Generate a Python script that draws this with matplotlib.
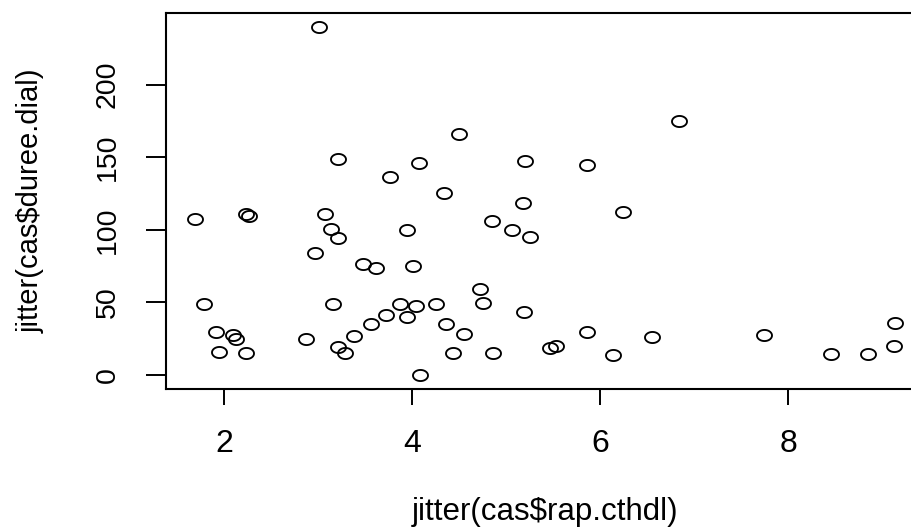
"""Scatter of jittered duree.dial against jittered rap.cthdl (R base plot look)."""

import matplotlib
matplotlib.use("Agg")
import matplotlib.pyplot as plt
import numpy as np
from matplotlib.path import Path

# values
rap_cthdl = [
    3.01, 4.50, 3.21, 4.07, 3.76, 4.34, 5.20, 5.18, 1.69, 2.23,
    2.26, 3.07, 3.13, 3.21, 3.94, 4.85, 5.06, 5.25, 2.96, 3.48,
    3.61, 4.01, 4.72, 4.75, 5.19, 1.78, 3.16, 3.87, 4.04, 4.25,
    3.94, 3.72, 3.56, 3.38, 4.36, 4.55, 1.91, 2.09, 2.12, 1.94,
    2.23, 2.87, 3.21, 3.28, 4.43, 4.86, 4.08, 6.84, 5.86, 6.24,
    5.86, 5.46, 5.53, 6.13, 6.55, 7.74, 8.45, 8.85, 9.12, 9.14,
]
duree_dial = [
    239.9, 166.2, 148.5, 146.2, 136.1, 125.1, 147.4, 118.7, 107.4, 110.9,
    109.5, 110.9, 100.3, 94.6, 99.9, 106.1, 99.9, 94.8, 83.8, 76.2,
    73.5, 74.8, 59.0, 49.8, 43.6, 48.7, 48.7, 48.7, 47.5, 48.7,
    39.9, 41.1, 34.9, 27.1, 34.9, 28.4, 29.8, 27.5, 25.0, 16.1,
    14.9, 25.0, 19.0, 14.9, 14.9, 14.9, 0.0, 174.7, 144.8, 112.3,
    29.8, 18.8, 20.2, 13.5, 26.2, 27.3, 14.7, 14.7, 20.2, 36.0,
]
x_ticks = [2, 4, 6, 8]
y_ticks = [0, 50, 100, 150, 200]

plt.rcParams["font.family"] = ["Liberation Sans", "DejaVu Sans"]

# open circles, a bit flattened like in the picture
t = np.linspace(0, 2 * np.pi, 64)
ellipse = Path(np.column_stack([np.cos(t), 0.74 * np.sin(t)]), closed=True)

fig = plt.figure(figsize=(9.11, 5.29), dpi=100)
ax = fig.add_axes([0.1817, 0.2647, 0.8322, 0.7113])

ax.plot(rap_cthdl, duree_dial, linestyle="none", marker=ellipse,
        markersize=10.8, markerfacecolor="none", markeredgecolor="black",
        markeredgewidth=1.35)

ax.set_xlim(1.375, 9.44)
ax.set_ylim(-9.6, 249.5)
ax.set_xticks(x_ticks)
ax.set_yticks(y_ticks)

for sp in ax.spines.values():
    sp.set_linewidth(1.5)

ax.tick_params(axis="x", length=11.5, width=1.4, pad=17, labelsize=23)
ax.tick_params(axis="y", length=14.4, width=1.4, pad=18, labelsize=20.5,
               labelrotation=90)
for lab in ax.get_yticklabels():
    lab.set_verticalalignment("center")

ax.set_xlabel("jitter(cas$rap.cthdl)", fontsize=22.5, labelpad=28)
ax.set_ylabel("jitter(cas$duree.dial)", fontsize=21, labelpad=36)

fig.savefig("out.png", dpi=100)
